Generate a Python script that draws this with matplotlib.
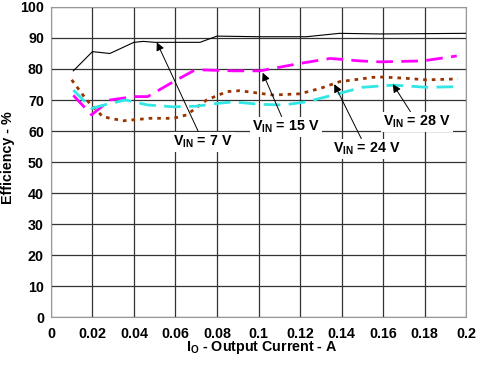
import matplotlib
matplotlib.use("Agg")
import matplotlib.pyplot as plt

plt.rcParams['font.family'] = ['Liberation Sans', 'DejaVu Sans']
plt.rcParams['mathtext.fontset'] = 'custom'
plt.rcParams['mathtext.rm'] = 'Liberation Sans:bold'
plt.rcParams['mathtext.bf'] = 'Liberation Sans:bold'
plt.rcParams['mathtext.it'] = 'Liberation Sans:bold'

# Data
i7 = [0.0108, 0.02, 0.0284, 0.04, 0.0445, 0.05, 0.06, 0.0718, 0.08, 0.091, 0.1, 0.123, 0.139, 0.1586, 0.18, 0.2]
e7 = [79.4, 85.6, 85.0, 88.6, 88.9, 88.6, 88.6, 88.6, 90.6, 90.5, 90.4, 90.4, 91.5, 91.3, 91.4, 91.5]

i15 = [0.0108, 0.0196, 0.0284, 0.04, 0.0466, 0.059, 0.0686, 0.0734, 0.088, 0.1007, 0.12, 0.1345, 0.149, 0.1586, 0.179, 0.1955]
e15 = [71.5, 65.2, 70.0, 71.1, 71.1, 75.9, 79.4, 79.7, 79.4, 79.4, 81.8, 83.4, 82.6, 82.3, 82.6, 84.2]

i24 = [0.0100, 0.0172, 0.025, 0.0348, 0.0477, 0.059, 0.0654, 0.075, 0.0847, 0.091, 0.107, 0.12, 0.13, 0.139, 0.155, 0.16, 0.171, 0.181, 0.196]
e24 = [76.5, 70.0, 64.6, 63.3, 64.1, 64.1, 65.2, 70.0, 72.7, 73.0, 71.6, 72.0, 73.8, 75.9, 77.3, 77.4, 77.0, 76.5, 76.8]

i28 = [0.0108, 0.0196, 0.0284, 0.036, 0.0466, 0.059, 0.07, 0.08, 0.088, 0.1007, 0.112, 0.123, 0.136, 0.150, 0.165, 0.181, 0.196]
e28 = [73.2, 67.3, 68.9, 70.0, 68.4, 67.8, 68.0, 68.9, 69.4, 68.6, 68.4, 69.4, 71.6, 74.1, 74.8, 74.1, 74.3]

xticks = [0, 0.02, 0.04, 0.06, 0.08, 0.1, 0.12, 0.14, 0.16, 0.18, 0.2]
xticklabels = ['0', '0.02', '0.04', '0.06', '0.08', '0.1', '0.12', '0.14', '0.16', '0.18', '0.2']
yticks = [0, 10, 20, 30, 40, 50, 60, 70, 80, 90, 100]

fig = plt.figure(figsize=(4.85, 3.67), dpi=100)
ax = fig.add_axes([0.105, 0.136, 0.856, 0.845])

ax.plot(i7, e7, color='black', lw=0.8, zorder=3)
ax.plot(i15, e15, color='#FF00FF', lw=2, dashes=(6, 3), zorder=3)
ax.plot(i24, e24, color='#993300', lw=2, dashes=(1.3, 1.8), zorder=3)
ax.plot(i28, e28, color='#33E6E6', lw=2, dashes=(6, 3), zorder=3)

ax.set_xlim(0, 0.2)
ax.set_ylim(0, 100)
ax.set_xticks(xticks)
ax.set_xticklabels(xticklabels)
ax.set_yticks(yticks)
ax.tick_params(axis='y', length=0, labelsize=10.3, pad=5)
ax.tick_params(axis='x', length=0, labelsize=10.3, pad=7)
for lab in ax.get_xticklabels() + ax.get_yticklabels():
    lab.set_fontweight('bold')
ax.grid(True, color='#333333', lw=0.9)
for s in ax.spines.values():
    s.set_color('#999999')

fig.text(262 / 485, 1 - 348 / 367, 'I$_{\\rm O}$ - Output Current - A', fontsize=10.3,
         fontweight='bold', ha='center', va='center')
fig.text(8 / 485, 1 - 158 / 367, 'Efficiency - %', fontsize=10.3, fontweight='bold',
         rotation=90, ha='center', va='center')

bbox = dict(boxstyle='square,pad=0.15', fc='white', ec='none')
ap = dict(arrowstyle='-|>', color='black', lw=0.7, mutation_scale=12, shrinkA=0, shrinkB=0)
ax.annotate('V$_{\\rm IN}$ = 7 V', xy=(0.0510, 88.6), xytext=(0.0733, 56.5),
            fontsize=10.3, fontweight='bold', ha='center', va='center', bbox=bbox, arrowprops=ap, zorder=4)
ax.annotate('V$_{\\rm IN}$ = 15 V', xy=(0.102, 78.8), xytext=(0.1133, 61.3),
            fontsize=10.3, fontweight='bold', ha='center', va='center', bbox=bbox, arrowprops=ap, zorder=4)
ax.annotate('V$_{\\rm IN}$ = 24 V', xy=(0.1365, 75.1), xytext=(0.152, 54.2),
            fontsize=10.3, fontweight='bold', ha='center', va='center', bbox=bbox, arrowprops=ap, zorder=4)
ax.annotate('V$_{\\rm IN}$ = 28 V', xy=(0.1647, 75.1), xytext=(0.1764, 62.9),
            fontsize=10.3, fontweight='bold', ha='center', va='center', bbox=bbox, arrowprops=ap, zorder=4)

fig.savefig('out.png', dpi=100)
